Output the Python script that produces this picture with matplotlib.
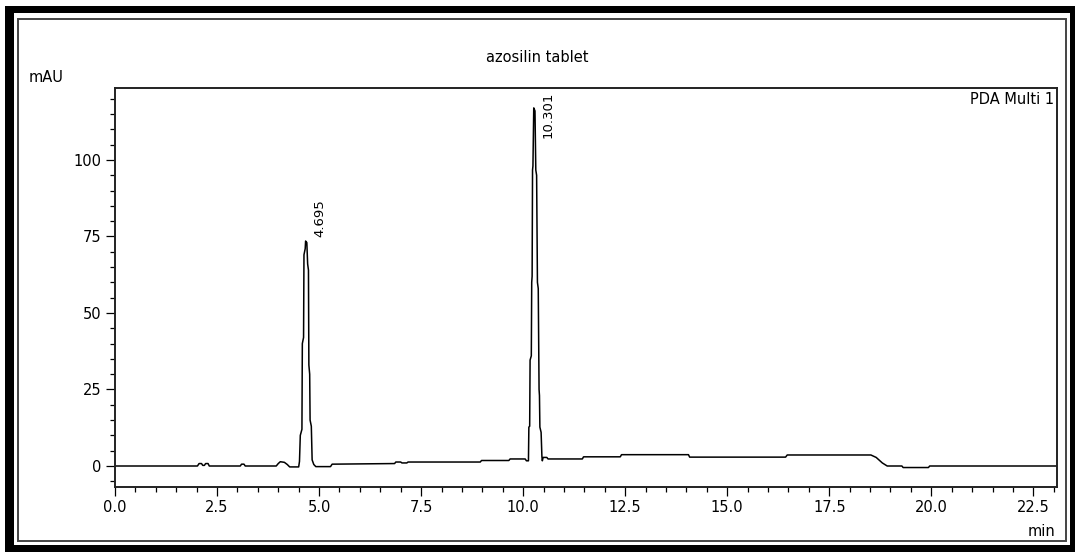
import matplotlib
matplotlib.use("Agg")
import matplotlib.pyplot as plt
from matplotlib.patches import Rectangle
from matplotlib.ticker import MultipleLocator

# ---- data ----
time_min = [0.0, 2.02, 2.06, 2.12, 2.15, 2.19, 2.22, 2.28, 2.31, 3.07, 3.10, 3.16, 3.19,
            3.95, 4.00, 4.05, 4.15, 4.22, 4.28, 4.50,
            4.52, 4.54, 4.58, 4.59, 4.62, 4.63, 4.66, 4.67, 4.70, 4.72, 4.74, 4.75, 4.77,
            4.78, 4.81, 4.83, 4.87, 4.92,
            5.28, 5.32, 6.85, 6.88, 7.00, 7.03, 7.15, 7.18, 8.95, 8.98, 9.65, 9.68, 10.05,
            10.08, 10.13,
            10.14, 10.16, 10.17, 10.20, 10.21, 10.22, 10.23, 10.24, 10.26, 10.29, 10.31,
            10.33, 10.35, 10.37, 10.39, 10.40, 10.41, 10.44, 10.46, 10.47,
            10.49, 10.58, 10.61, 11.45, 11.48, 12.38, 12.41, 14.05, 14.08, 16.43, 16.47,
            18.52, 18.65, 18.80, 18.92, 19.28, 19.31, 19.93, 19.96, 23.1]
signal_mau = [0.0, 0.0, 0.8, 0.8, 0.2, 0.2, 0.8, 0.8, 0.0, 0.0, 0.6, 0.6, 0.0,
              0.0, 0.8, 1.4, 1.2, 0.5, -0.3, -0.3,
              1.5, 10.0, 12.0, 40.0, 42.0, 69.0, 71.0, 73.5, 73.0, 66.0, 64.0, 33.0, 30.0,
              15.0, 13.0, 2.0, 0.5, -0.2,
              -0.2, 0.6, 0.8, 1.3, 1.3, 1.0, 1.0, 1.3, 1.3, 1.8, 1.8, 2.3, 2.3,
              1.7, 1.7,
              12.7, 13.0, 34.6, 36.0, 60.0, 62.0, 96.7, 98.0, 117.0, 116.0, 96.7,
              95.0, 60.0, 58.0, 25.0, 23.0, 12.7, 11.0, 3.0, 1.7,
              2.8, 2.8, 2.3, 2.3, 3.0, 3.0, 3.7, 3.7, 2.9, 2.9, 3.6,
              3.6, 2.8, 1.0, 0.0, 0.0, -0.5, -0.5, 0.0, 0.0]

peak_times = [4.695, 10.301]
peak_labels = ["4.695", "10.301"]
label_x = [5.01, 10.60]
label_y = [74.8, 107.2]

title = "azosilin tablet"
y_unit = "mAU"
x_unit = "min"
channel = "PDA Multi 1"

W, H = 1075, 552
plt.rcParams['font.family'] = ['DejaVu Sans']
fig = plt.figure(figsize=(W / 100, H / 100), dpi=100)
fig.patch.set_facecolor('white')

# outer frames
fig.patches.append(Rectangle((5 / W, 0), 1070 / W, 546 / H, transform=fig.transFigure,
                             facecolor='black', edgecolor='none', zorder=-3))
fig.patches.append(Rectangle((14 / W, 7 / H), 1056 / W, 532 / H, transform=fig.transFigure,
                             facecolor='white', edgecolor='none', zorder=-2))
fig.patches.append(Rectangle((18 / W, 11 / H), 1048 / W, 522 / H, transform=fig.transFigure,
                             facecolor='none', edgecolor='#444444', linewidth=1.4, zorder=-1))

ax = fig.add_axes([115 / W, (H - 487) / H, (1057 - 115) / W, (487 - 88) / H])
ax.plot(time_min, signal_mau, color='black', linewidth=1.1)

ax.set_xlim(0, 23.08)
ax.set_ylim(-6.86, 123.5)
ax.xaxis.set_major_locator(MultipleLocator(2.5))
ax.xaxis.set_minor_locator(MultipleLocator(0.5))
ax.yaxis.set_major_locator(MultipleLocator(25))
ax.yaxis.set_minor_locator(MultipleLocator(5))
ax.xaxis.set_major_formatter(matplotlib.ticker.FormatStrFormatter('%.1f'))
ax.yaxis.set_major_formatter(matplotlib.ticker.FormatStrFormatter('%d'))
ax.tick_params(which='major', direction='out', length=6.5, width=0.9, labelsize=10.5, pad=3)
ax.tick_params(which='minor', direction='out', length=3.6, width=0.9)
for s in ax.spines.values():
    s.set_linewidth(1.4)
    s.set_color('#222222')

for lx, ly, lab in zip(label_x, label_y, peak_labels):
    ax.text(lx, ly, lab, rotation=90, ha='center', va='bottom', fontsize=9.5)

fig.text(537.5 / W, 1 - 57 / H, title, ha='center', va='center', fontsize=10.5)
fig.text(29 / W, 1 - 78 / H, y_unit, ha='left', va='center', fontsize=10.5)
fig.text(1054 / W, 1 - 100 / H, channel, ha='right', va='center', fontsize=10.5)
fig.text(1055 / W, 1 - 532 / H, x_unit, ha='right', va='center', fontsize=10.5)

fig.savefig('out.png', dpi=100, facecolor='white')
